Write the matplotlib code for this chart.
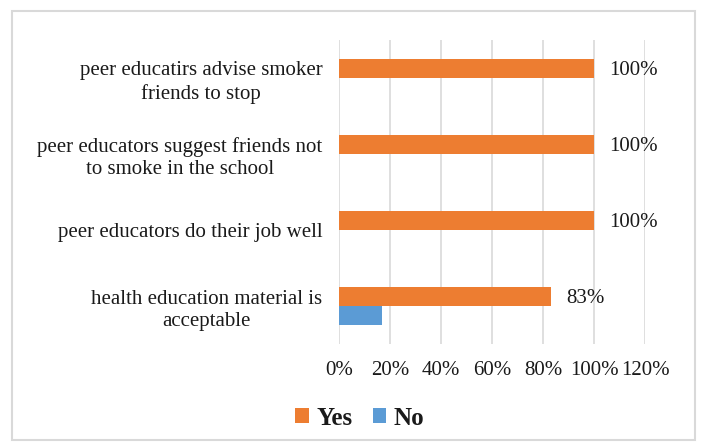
import matplotlib.pyplot as plt
import numpy as np
from matplotlib.patches import Rectangle

plt.rcParams['font.family'] = ['Liberation Serif', 'DejaVu Serif']

categories = ["health education material is\nacceptable",
              "peer educators do their job well",
              "peer educators suggest friends not\nto smoke in the school",
              "peer educatirs advise smoker\nfriends to stop"]
yes_vals = [83, 100, 100, 100]
no_vals = [17, 0, 0, 0]
xticks = [0, 20, 40, 60, 80, 100, 120]

fig = plt.figure(figsize=(7.02, 4.48), dpi=100)
W, H = 702, 448
ax = fig.add_axes([339 / W, 1 - 344 / H, (645 - 339) / W, (344 - 40) / H])

y = np.arange(len(categories))
h = 0.25
ax.barh(y + h / 2, yes_vals, height=h, color='#ED7D31', label='Yes', zorder=3)
ax.barh(y - h / 2, no_vals, height=h, color='#5B9BD5', label='No', zorder=3)

for yi, v in zip(y, yes_vals):
    ax.text(v + 6, yi + h / 2 - 0.03, f"{v}%", va='center', ha='left', fontsize=15, color='#1a1a1a')

ax.set_xlim(0, 120)
ax.set_ylim(-0.5, len(categories) - 0.5)
ax.set_xticks(xticks)
ax.set_xticklabels([f"{t}%" for t in xticks], fontsize=15, color='#1a1a1a')
ax.set_yticks(y)
ax.set_yticklabels(categories, fontsize=15, color='#1a1a1a', multialignment='center',
                   linespacing=1.25)
ax.tick_params(length=0)
ax.tick_params(axis='y', pad=12)
ax.tick_params(axis='x', pad=12)
ax.grid(axis='x', color='#D9D9D9', linewidth=1.2, zorder=0)
for s in ax.spines.values():
    s.set_visible(False)

handles, labels = ax.get_legend_handles_labels()
leg = fig.legend(handles, labels, loc='center', bbox_to_anchor=(360 / W, 1 - 418 / H), ncol=2,
                 frameon=False, prop={'weight': 'bold', 'size': 18},
                 handlelength=0.55, handleheight=0.55, handletextpad=0.3, columnspacing=0.8)
for t in leg.get_texts():
    t.set_color('#1a1a1a')

fig.patches.append(Rectangle((12 / W, 1 - 440 / H), (695 - 12) / W, (440 - 11) / H,
                             transform=fig.transFigure, fill=False, edgecolor='#D9D9D9',
                             linewidth=1.5))

fig.savefig('out.png', dpi=100)
